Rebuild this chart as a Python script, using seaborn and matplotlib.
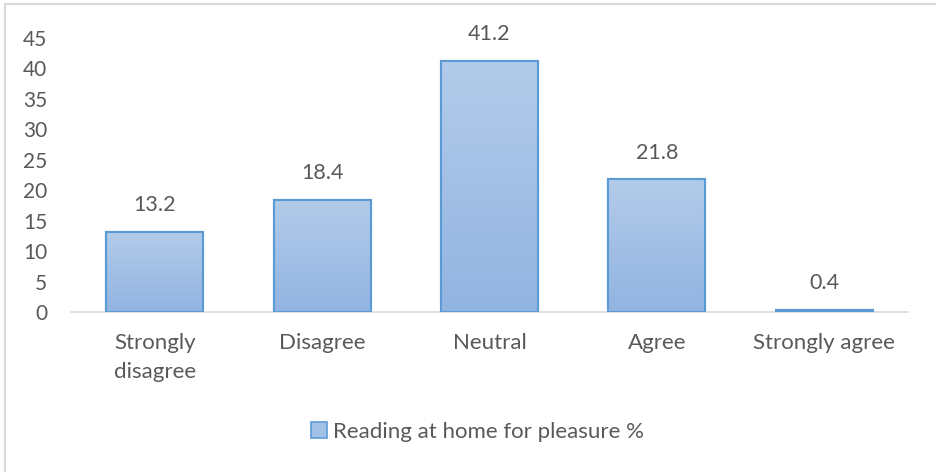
import numpy as np
import pandas as pd
import matplotlib
matplotlib.use("Agg")
import matplotlib.pyplot as plt
import matplotlib.patches as mpatches
from matplotlib.colors import LinearSegmentedColormap
from matplotlib.lines import Line2D
import seaborn as sns

# Survey responses: "Reading at home for pleasure"
categories = ["Strongly\ndisagree", "Disagree", "Neutral", "Agree", "Strongly agree"]
percentages = [13.2, 18.4, 41.2, 21.8, 0.4]
yticks = [0, 5, 10, 15, 20, 25, 30, 35, 40, 45]
series_name = "Reading at home for pleasure %"

sns.set_theme(style="white")
plt.rcParams["font.family"] = ["Lato", "DejaVu Sans"]

text_color = "#595959"
edge_color = "#5b9bd5"
top_color = "#b2cbea"
bottom_color = "#92b4e1"

df = pd.DataFrame({"category": categories, "value": percentages})

fig = plt.figure(figsize=(9.37, 4.72), dpi=100)
ax = fig.add_axes([0.0758, 0.339, 0.969 - 0.0758, 0.9195 - 0.339])

sns.barplot(data=df, x="category", y="value", ax=ax, width=0.58,
            color=top_color, edgecolor=edge_color, linewidth=1.5,
            saturation=1, zorder=2)

# vertical gradient inside each bar
cmap = LinearSegmentedColormap.from_list("bar_grad", [bottom_color, top_color])
grad = np.linspace(0, 1, 256).reshape(-1, 1)
for patch, val in zip(ax.patches, percentages):
    x0, y0 = patch.get_x(), patch.get_y()
    w, h = patch.get_width(), patch.get_height()
    im = ax.imshow(grad, cmap=cmap, origin="lower", aspect="auto",
                   extent=[x0, x0 + w, y0, y0 + h], zorder=2.5,
                   interpolation="bilinear")
    im.set_clip_path(patch)
    outline = mpatches.Rectangle((x0, y0), w, h, fill=False,
                                 edgecolor=edge_color, linewidth=1.5, zorder=3)
    ax.add_patch(outline)
    ax.annotate(f"{val}", xy=(x0 + w / 2, y0 + h), xytext=(0, 12),
                textcoords="offset points", ha="center", va="bottom",
                fontsize=15.5, color=text_color)

ax.set_xlim(-0.5, len(categories) - 0.5)
ax.set_ylim(0, 45)
ax.set_yticks(yticks)
ax.set_yticklabels([str(t) for t in yticks])
ax.set_xlabel("")
ax.set_ylabel("")

for side in ["top", "right", "left"]:
    ax.spines[side].set_visible(False)
ax.spines["bottom"].set_color("#d9d9d9")
ax.spines["bottom"].set_linewidth(1.2)

ax.tick_params(axis="y", length=0, pad=17, labelsize=15, labelcolor=text_color)
ax.tick_params(axis="x", length=0, pad=15, labelsize=16, labelcolor=text_color)
for lbl in ax.get_xticklabels():
    lbl.set_linespacing(1.6)

handle = mpatches.Patch(facecolor="#a3c0e6", edgecolor=edge_color, linewidth=1.2,
                        label=series_name)
leg = fig.legend(handles=[handle], loc="center", bbox_to_anchor=(0.51, 1 - 432 / 472),
                 frameon=False, fontsize=16, handlelength=0.7, handleheight=0.7,
                 handletextpad=0.3, labelcolor=text_color)

# chart frame edges
fig.add_artist(Line2D([5 / 937, 5 / 937], [0, 1 - 4 / 472], transform=fig.transFigure,
                      color="#d9d9d9", linewidth=1.5))
fig.add_artist(Line2D([5 / 937, 1], [1 - 4 / 472, 1 - 4 / 472], transform=fig.transFigure,
                      color="#d9d9d9", linewidth=1.5))

fig.savefig("out.png", dpi=100, facecolor="white")
